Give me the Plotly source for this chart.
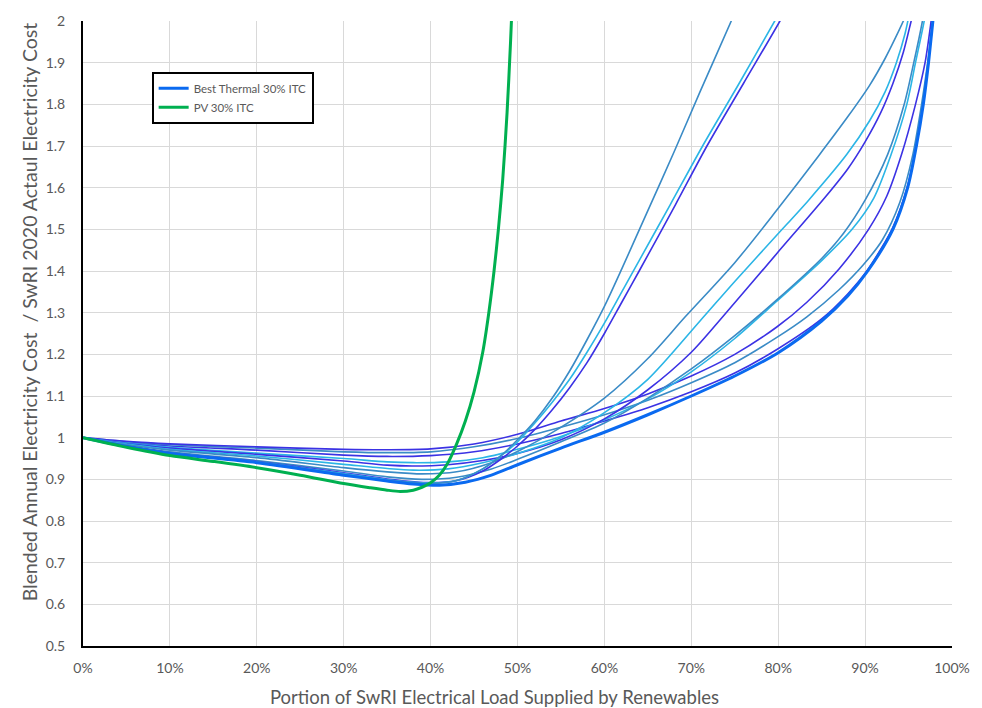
import plotly.graph_objects as go

# ---- data (x in % of load supplied by renewables, y = cost ratio) ----
pv_x = [0, 5, 10, 15, 20, 25, 30, 33, 35, 36.5, 38, 39, 40, 41, 42, 43, 44, 45, 46, 46.7, 47.3, 47.8, 48.3, 48.8, 49.2, 49.4]
pv_y = [1.0, 0.977, 0.957, 0.943, 0.928, 0.91, 0.89, 0.88, 0.874, 0.871, 0.874, 0.881, 0.892, 0.91, 0.94, 0.985, 1.04, 1.11, 1.205, 1.3, 1.4, 1.5, 1.62, 1.78, 1.95, 2.05]

best_x = [0, 5, 10, 20, 30, 35, 38, 41, 44, 47, 50, 55, 60, 65, 70, 75, 80, 85, 88, 90.3, 93.2, 94.9, 95.9, 96.7, 97.3, 97.8, 98.1]
best_y = [1.0, 0.979, 0.962, 0.94, 0.91, 0.896, 0.889, 0.886, 0.893, 0.91, 0.935, 0.975, 1.013, 1.055, 1.1, 1.148, 1.204, 1.28, 1.34, 1.4, 1.5, 1.6, 1.7, 1.8, 1.9, 2.0, 2.05]

a_x = [0, 5, 10, 20, 30, 35, 40, 43, 46, 48, 50, 52, 54, 56, 58, 60, 62, 65, 68, 71, 74.6, 76]
a_y = [1.0, 0.979, 0.963, 0.942, 0.912, 0.898, 0.89, 0.897, 0.925, 0.955, 0.995, 1.04, 1.095, 1.16, 1.235, 1.315, 1.405, 1.545, 1.685, 1.83, 2.0, 2.07]

b_x = [0, 5, 10, 20, 30, 35, 40, 43, 46, 48, 50, 52, 54, 56, 58, 60, 62, 64, 67.6, 71.3, 75.5, 79.6, 81]
b_y = [1.0, 0.979, 0.963, 0.941, 0.914, 0.899, 0.891, 0.897, 0.925, 0.955, 0.99, 1.035, 1.085, 1.14, 1.205, 1.275, 1.35, 1.425, 1.56, 1.7, 1.85, 2.0, 2.05]

c_x = [0, 5, 10, 20, 30, 35, 40, 43, 46, 48, 50, 52, 54, 56, 58, 60, 62, 64, 68.2, 71.8, 76, 80.2, 81.5]
c_y = [1.0, 0.98, 0.964, 0.943, 0.916, 0.901, 0.892, 0.897, 0.92, 0.947, 0.98, 1.02, 1.067, 1.12, 1.18, 1.25, 1.325, 1.4, 1.56, 1.7, 1.85, 2.0, 2.05]

d_x = [0, 5, 10, 20, 30, 35, 39, 43, 47, 50, 54.6, 60, 65, 69.3, 75, 79.8, 84.6, 88, 90.5, 92.3, 93.5, 94.4, 95]
d_y = [1.0, 0.983, 0.97, 0.952, 0.928, 0.918, 0.913, 0.918, 0.94, 0.967, 1.02, 1.095, 1.19, 1.29, 1.42, 1.545, 1.675, 1.77, 1.845, 1.91, 1.96, 2.0, 2.03]

e_x = [0, 5, 10, 20, 30, 35, 38, 42, 46, 50, 55, 60, 65, 71, 75, 79.8, 83.5, 87.9, 90.5, 92.3, 93.6, 94.6, 95.2]
e_y = [1.0, 0.985, 0.972, 0.956, 0.936, 0.926, 0.922, 0.925, 0.94, 0.962, 1.0, 1.06, 1.14, 1.28, 1.375, 1.485, 1.57, 1.68, 1.76, 1.83, 1.9, 1.97, 2.03]

f_x = [0, 5, 10, 20, 30, 35, 38, 42, 46, 50, 55, 60, 65, 70, 73, 79.8, 85.4, 88, 90, 91.8, 93.2, 94.4, 95.3, 96]
f_y = [1.0, 0.986, 0.975, 0.96, 0.944, 0.934, 0.932, 0.935, 0.945, 0.962, 0.995, 1.045, 1.115, 1.205, 1.275, 1.441, 1.577, 1.645, 1.71, 1.78, 1.85, 1.925, 2.0, 2.06]

g_x = [0, 5, 10, 20, 30, 35, 39, 43, 47, 50, 55, 60, 65, 70, 75, 79.8, 85, 87.5, 90, 92.6, 94.5, 95.6, 96.6, 97]
g_y = [1.0, 0.981, 0.966, 0.945, 0.92, 0.906, 0.9, 0.905, 0.925, 0.948, 0.99, 1.035, 1.095, 1.165, 1.245, 1.33, 1.43, 1.49, 1.57, 1.68, 1.8, 1.9, 2.0, 2.05]

h_x = [0, 5, 10, 20, 30, 35, 38, 42, 46, 50, 55, 60, 65, 70, 75, 79.8, 85, 88.5, 91, 93, 94.8, 95.8, 96.8, 97.2]
h_y = [1.0, 0.987, 0.977, 0.963, 0.95, 0.942, 0.94, 0.942, 0.952, 0.972, 1.003, 1.043, 1.093, 1.158, 1.238, 1.327, 1.425, 1.5, 1.575, 1.68, 1.8, 1.9, 2.0, 2.05]

i_x = [0, 5, 10, 20, 30, 35, 40, 45, 50, 55, 60, 65, 70, 75, 79.8, 83.3, 87, 90.4, 92.5, 94.2, 95.8, 96.9, 97.6, 97.9]
i_y = [1.0, 0.991, 0.985, 0.978, 0.972, 0.971, 0.973, 0.985, 1.008, 1.04, 1.07, 1.105, 1.148, 1.2, 1.265, 1.325, 1.405, 1.5, 1.58, 1.68, 1.8, 1.9, 2.0, 2.05]

j_x = [0, 5, 10, 20, 30, 35, 40, 45, 50, 55, 60, 65, 70, 75, 79.8, 83.3, 87, 89.8, 92, 94, 95.5, 96.5, 97.2, 97.8, 98.1]
j_y = [1.0, 0.99, 0.983, 0.975, 0.966, 0.964, 0.966, 0.978, 0.998, 1.025, 1.055, 1.09, 1.132, 1.18, 1.24, 1.29, 1.355, 1.415, 1.475, 1.565, 1.68, 1.8, 1.9, 2.0, 2.05]

k_x = [0, 5, 10, 20, 30, 35, 40, 45, 50, 55, 60, 65, 70, 75, 79.8, 85, 88, 90.3, 93.2, 94.9, 95.9, 96.7, 97.3, 97.8, 98.1]
k_y = [1.0, 0.988, 0.98, 0.97, 0.958, 0.955, 0.957, 0.966, 0.985, 1.01, 1.04, 1.072, 1.11, 1.155, 1.211, 1.285, 1.345, 1.403, 1.505, 1.605, 1.705, 1.805, 1.905, 2.0, 2.05]

x_ticks = [0, 10, 20, 30, 40, 50, 60, 70, 80, 90, 100]
x_tick_labels = ["0%", "10%", "20%", "30%", "40%", "50%", "60%", "70%", "80%", "90%", "100%"]
y_ticks = [0.5, 0.6, 0.7, 0.8, 0.9, 1.0, 1.1, 1.2, 1.3, 1.4, 1.5, 1.6, 1.7, 1.8, 1.9, 2.0]
y_tick_labels = ["0.5", "0.6", "0.7", "0.8", "0.9", "1", "1.1", "1.2", "1.3", "1.4", "1.5", "1.6", "1.7", "1.8", "1.9", "2"]

x_title = "Portion of SwRI Electrical Load Supplied by Renewables"
y_title = "Blended Annual Electricity Cost  / SwRI 2020 Actaul Electricity Cost"

STEEL = "#3A8BC6"
LIGHT = "#2BB5E6"
VIOLET = "#3B32E4"
BEST = "#0A6AF0"
GREEN = "#00B050"

thin = [
    (k_x, k_y, VIOLET), (j_x, j_y, STEEL), (i_x, i_y, VIOLET),
    (h_x, h_y, LIGHT), (g_x, g_y, STEEL), (f_x, f_y, VIOLET),
    (e_x, e_y, LIGHT), (d_x, d_y, STEEL), (c_x, c_y, VIOLET),
    (b_x, b_y, LIGHT), (a_x, a_y, STEEL),
]

fig = go.Figure()
for xs, ys, col in thin:
    fig.add_trace(go.Scatter(x=xs, y=ys, mode="lines", showlegend=False,
                             line=dict(color=col, width=1.6, shape="spline", smoothing=0.8),
                             hoverinfo="skip"))

fig.add_trace(go.Scatter(x=best_x, y=best_y, mode="lines", name="Best Thermal 30% ITC",
                         line=dict(color=BEST, width=3, shape="spline", smoothing=0.8)))
fig.add_trace(go.Scatter(x=pv_x, y=pv_y, mode="lines", name="PV 30% ITC",
                         line=dict(color=GREEN, width=3, shape="spline", smoothing=0.8)))

FONT = "Lato, 'Open Sans', sans-serif"
fig.update_layout(
    width=982, height=708,
    margin=dict(l=83, r=26, t=15, b=62),
    paper_bgcolor="white", plot_bgcolor="white",
    font=dict(family=FONT, color="#595959", size=14),
    legend=dict(x=0.079, y=0.919, xanchor="left", yanchor="top",
                bgcolor="white", bordercolor="black", borderwidth=2,
                font=dict(size=11.5, color="#595959"), tracegroupgap=0,
                itemwidth=30),
    xaxis=dict(range=[0, 100], tickvals=x_ticks, ticktext=x_tick_labels,
               showgrid=True, gridcolor="#D9D9D9", gridwidth=1,
               showline=True, linecolor="black", linewidth=2,
               zeroline=False, ticks="", ticklabelstandoff=8),
    yaxis=dict(range=[0.5, 2.0], tickvals=y_ticks, ticktext=y_tick_labels,
               showgrid=True, gridcolor="#D9D9D9", gridwidth=1,
               showline=True, linecolor="black", linewidth=2,
               zeroline=False, ticks="", ticklabelstandoff=13),
    annotations=[
        dict(text=x_title, xref="paper", yref="paper", x=0.474, y=-0.0815,
             xanchor="center", yanchor="middle", showarrow=False,
             font=dict(size=18.5, color="#595959")),
        dict(text=y_title, xref="paper", yref="paper", x=-0.062, y=0.534,
             xanchor="center", yanchor="middle", textangle=-90, showarrow=False,
             font=dict(size=19.5, color="#595959")),
    ],
)

fig.write_html("out.html")
